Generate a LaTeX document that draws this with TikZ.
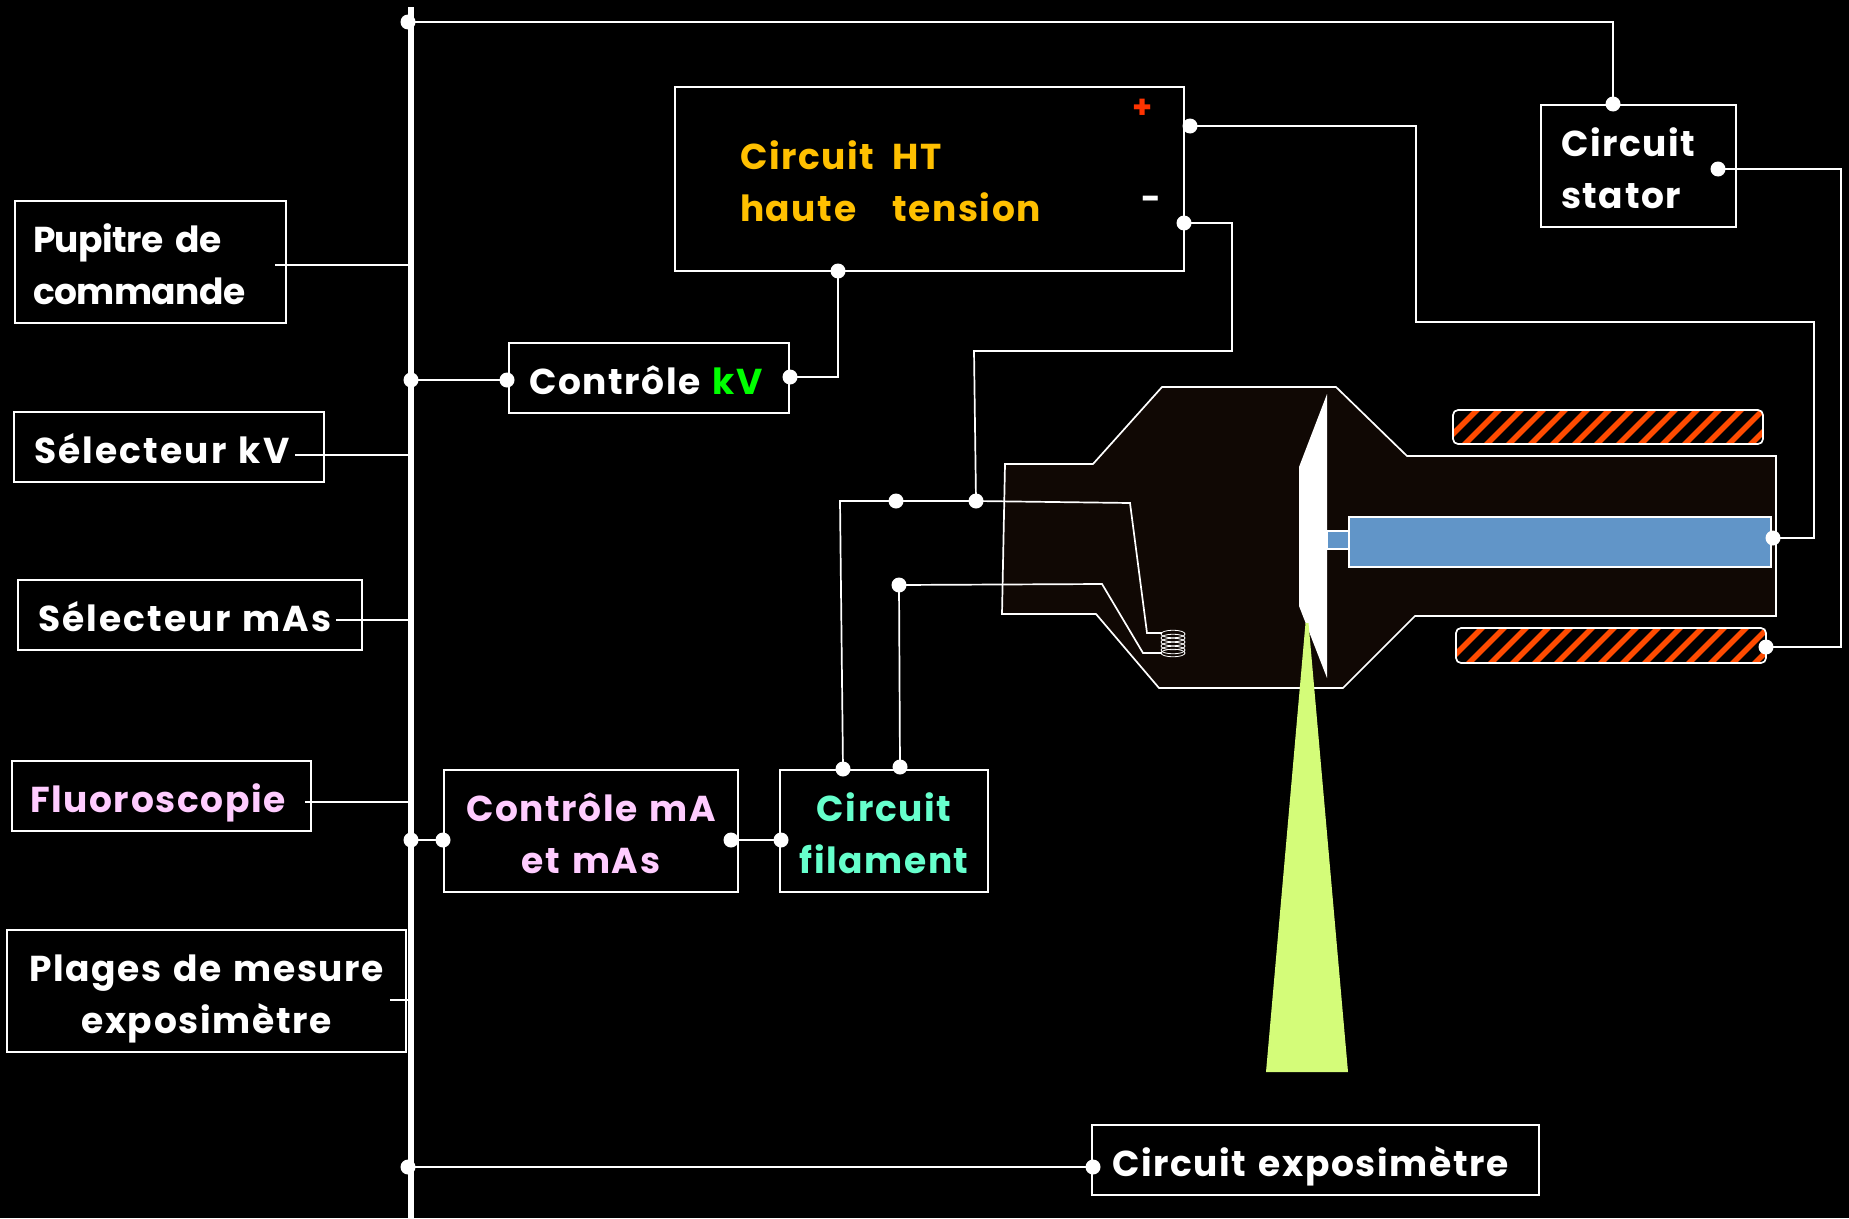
\documentclass[tikz,border=0pt]{standalone}
\usepackage{fontspec}
\setmainfont[WordSpace=1.5,LetterSpace=4.5]{Poppins}
\definecolor{tubefill}{HTML}{100804}
\definecolor{rotorblue}{HTML}{6195C8}
\definecolor{hatchor}{HTML}{FF4B00}
\definecolor{beamgreen}{HTML}{D4FC79}
\definecolor{htyellow}{HTML}{FFC000}
\definecolor{pinktxt}{HTML}{FFCCFF}
\definecolor{minttxt}{HTML}{66FFCC}
\definecolor{plusred}{HTML}{FF3300}
\tikzset{
  x=1pt,y=-1pt,
  boxx/.style n args={3}{draw=white,line width=1.6pt,rectangle,anchor=north west,outer sep=0pt,
    minimum width=#1,minimum height=#2,inner ysep=0pt,inner xsep=#3,text width=#1-2*#3,
    text=white,font=\fontsize{36}{52}\selectfont\bfseries,
    execute at begin node={\baselineskip=52pt\relax\rule{0pt}{42pt}},
    execute at end node={\rule[-10pt]{0pt}{0pt}}},
  dotn/.style={circle,fill=white,inner sep=0pt,minimum size=15pt},
  wire/.style={draw=white,line width=1.7pt,line join=miter},
  thin wire/.style={draw=white,line width=1.4pt},
  bus/.style={draw=white,line width=5.5pt},
  edge line/.style={draw=white,line width=1.7pt},
  txt/.style={text=white,font=\bfseries,inner sep=0pt,align=left},
}
\begin{document}
\begin{tikzpicture}
\useasboundingbox[fill=black] (0,0) rectangle (1849,1218);

% bus
\coordinate (bustop) at (411,7);
\coordinate (busbot) at (411,1218);
\draw[bus] (bustop) -- (busbot);

% tube
\path[fill=tubefill,edge line] (1005,464) -- (1093,464) -- (1162,387) -- (1336,387) -- (1407,456) -- (1776,456) -- (1776,616) -- (1415,616) -- (1343,688) -- (1159,688) -- (1096,614) -- (1002,614) -- cycle;
% anode
\fill[white] (1327,394) -- (1299,467) -- (1299,606) -- (1327,678) -- cycle;
% stem + rotor
\path[fill=rotorblue,edge line] (1327,531) rectangle (1349,549);
\path[fill=rotorblue,edge line] (1349,517) rectangle (1771,567);
% beam
\fill[beamgreen] (1305.5,623) -- (1308.5,623) -- (1348,1072) -- (1266,1072) -- cycle;

% hatched coils
\begin{scope}
\clip[rounded corners=5pt] (1453,410) rectangle (1763,444);
\foreach \i in {0,...,16}{\draw[hatchor,line width=5.6pt] ({1437+22*\i},450) -- ({1437+22*\i+46},404);}
\end{scope}
\draw[white,line width=1.7pt,rounded corners=5pt] (1453,410) rectangle (1763,444);
\begin{scope}
\clip[rounded corners=5pt] (1456,628) rectangle (1766,663);
\foreach \i in {0,...,16}{\draw[hatchor,line width=5.6pt] ({1441+22*\i},669) -- ({1441+22*\i+47},622);}
\end{scope}
\draw[white,line width=1.7pt,rounded corners=5pt] (1456,628) rectangle (1766,663);

% filament coil
\foreach \y in {634,638,642,646,650,653}{\draw[white,line width=.8pt] (1173,\y) ellipse (12 and 3.8);}

% boxes
\node[boxx={271}{122}{18}] (pupitre) at (15,201) {\addfontfeature{LetterSpace=-1.5}Pupitre de\\commande};
\node[boxx={310}{70}{20}] (selkv) at (14,412) {\addfontfeature{LetterSpace=6}Sélecteur kV};
\node[boxx={344}{70}{20}] (selmas) at (18,580) {\addfontfeature{LetterSpace=6}Sélecteur mAs};
\node[boxx={299}{70}{18},text=pinktxt] (fluoro) at (12,761) {Fluoroscopie};
\node[boxx={399}{122}{0},align=center] (plages) at (7,930) {Plages de mesure\\exposimètre};
\node[boxx={280}{70}{20}] (ctrlkv) at (509,343) {Contrôle \textcolor{green}{kV}};
\node[boxx={294}{122}{0},text=pinktxt,align=center] (ctrlma) at (444,770) {Contrôle mA\\et mAs};
\node[boxx={208}{122}{0},text=minttxt,align=center] (filament) at (780,770) {Circuit\\filament};
\node[boxx={509}{184}{65},text=htyellow] (ht) at (675,87) {Circuit\hspace{6pt} HT\\haute\hspace{24pt} tension};
\node[boxx={195}{122}{20}] (stator) at (1541,105) {Circuit\\stator};
\node[boxx={447}{70}{20}] (expo) at (1092,1125) {Circuit exposimètre};
\node[txt,text=plusred,font=\bfseries\fontsize{32}{32}\selectfont] (plus) at (1143,109) {+};
\node[txt,font=\bfseries\fontsize{34}{34}\selectfont] (minus) at (1151,203) {-};

% dots
\node[dotn] (bA) at (408,22) {};
\node[dotn] (sA) at (1613,104) {};
\node[dotn] (sB) at (1718,169) {};
\node[dotn] (cB) at (1766,647) {};
\node[dotn] (rA) at (1773,538) {};
\node[dotn] (hP) at (1190,126) {};
\node[dotn] (hM) at (1184,223) {};
\node[dotn] (hK) at (838,271) {};
\node[dotn] (kR) at (790,377) {};
\node[dotn] (kL) at (507,380) {};
\node[dotn] (bK) at (411,380) {};
\node[dotn] (bM) at (411,840) {};
\node[dotn] (mL) at (443,840) {};
\node[dotn] (mR) at (731,840) {};
\node[dotn] (fL) at (781,840) {};
\node[dotn] (fA) at (843,769) {};
\node[dotn] (fB) at (900,767) {};
\node[dotn] (jA) at (896,501) {};
\node[dotn] (jB) at (976,501) {};
\node[dotn] (jC) at (899,585) {};
\node[dotn] (eL) at (1093,1167) {};
\node[dotn] (bE) at (408,1167) {};

% taps on the bus
\coordinate (pS) at (275,265);   \coordinate (pB) at (411,265);
\coordinate (kS) at (295,455);   \coordinate (kB) at (411,455);
\coordinate (aS) at (336,620);   \coordinate (aB) at (411,620);
\coordinate (fS) at (305,802);   \coordinate (fE) at (411,802);
\coordinate (gS) at (390,1000);  \coordinate (gB) at (411,1000);
\draw[thin wire] (pS) -- (pB);
\draw[thin wire] (kS) -- (kB);
\draw[thin wire] (aS) -- (aB);
\draw[thin wire] (fS) -- (fE);
\draw[thin wire] (gS) -- (gB);

% connectors
\draw[wire] (bA.center) -- (1613,22) -- (sA.center);
\draw[wire] (sB.center) -- (1841,169) -- (1841,647) -- (cB.center);
\draw[wire] (rA.center) -- (1814,538) -- (1814,322) -- (1416,322) -- (1416,126) -- (hP.center);
\draw[wire] (hM.center) -- (1232,223) -- (1232,351) -- (974,351) -- (jB.center);
\draw[wire] (hK.center) -- (838,377) -- (kR.center);
\draw[wire] (kL.center) -- (bK.center);
\draw[wire] (bM.center) -- (mL.center);
\draw[wire] (mR.center) -- (fL.center);
\draw[wire] (fA.center) -- (840,501) -- (jA.center) -- (jB.center) -- (1130,503) -- (1147,633) -- (1162,633);
\draw[wire] (fB.center) -- (jC.center) -- (1102,584) -- (1143,653) -- (1162,653);
\draw[wire] (eL.center) -- (bE.center);
\end{tikzpicture}
\end{document}
